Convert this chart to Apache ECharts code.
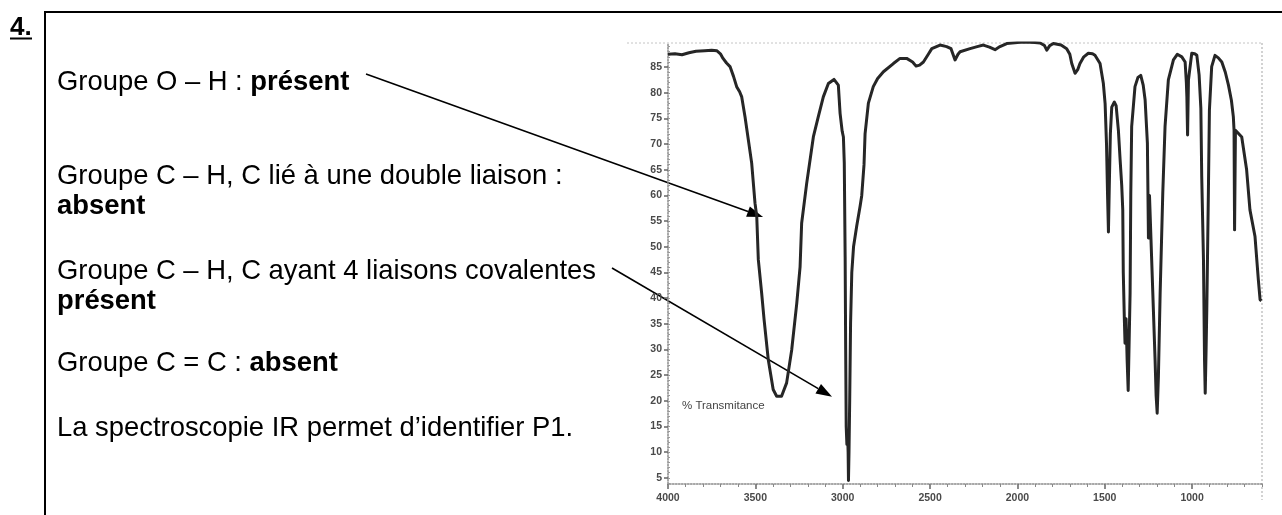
<!DOCTYPE html>
<html>
<head>
<meta charset="utf-8">
<script src="https://cdn.jsdelivr.net/npm/echarts@6/dist/echarts.min.js"></script>
<style>
html,body{margin:0;padding:0;background:#fff;}
#c{width:1282px;height:515px;}
</style>
</head>
<body>
<div id="c"></div>
<script>
// Wavenumbers (cm-1) and % transmittance
const wavenumbers = [4000,3960,3920,3880,3840,3790,3750,3721,3700,3685,3665,3645,3625,3607,3590,3578,3559,3540,3521,3502,3492,3483,3464,3450,3426,3398,3378,3350,3321,3292,3263,3244,3235,3206,3168,3140,3111,3082,3050,3025,3015,3003,2996,2991,2986,2983,2980,2976,2972,2969,2967,2964,2960,2955,2948,2938,2920,2900,2891,2878,2872,2853,2825,2800,2767,2710,2672,2634,2600,2580,2560,2538,2510,2490,2443,2405,2380,2357,2340,2328,2271,2230,2195,2160,2128,2100,2061,2000,1966,1900,1870,1845,1832,1815,1794,1750,1718,1700,1689,1670,1655,1642,1620,1594,1570,1556,1527,1508,1498,1490,1484,1479,1474,1468,1460,1445,1435,1422,1412,1403,1397,1394,1388,1384,1378,1372,1366,1362,1355,1351,1346,1327,1310,1294,1280,1269,1256,1250,1244,1232,1222,1212,1206,1200,1193,1183,1168,1155,1136,1107,1085,1059,1040,1033,1030,1026,1021,1002,985,973,960,950,945,935,929,925,920,916,907,901,888,869,850,830,810,792,775,764,760,757,752,745,716,688,669,640,621,611,603];
const transmittance = [87.5,87.6,87.4,87.8,88.1,88.2,88.3,88.2,87.6,86.7,85.8,85.1,83.2,81.2,80.2,79.2,75.3,70.8,66.3,58.5,55.9,47.5,41.0,35.8,28.0,22.2,20.9,20.9,23.5,29.9,39.0,46.1,54.6,62.4,71.4,75.3,79.2,81.8,82.6,81.5,76.0,72.5,71.4,66.3,48.0,30.0,15.0,11.5,13.5,10.0,4.5,10.0,20.0,35.0,45.0,50.0,54.0,58.0,60.0,66.0,72.0,78.0,81.2,82.8,84.1,85.7,86.7,86.7,86.0,85.2,85.4,86.0,87.5,88.6,89.3,89.0,88.6,86.4,87.5,88.0,88.6,89.0,89.3,88.9,88.4,89.0,89.6,89.8,89.9,89.8,89.7,89.2,88.3,89.2,89.6,89.3,88.6,87.5,85.7,83.8,84.5,85.7,87.0,87.7,87.6,87.3,85.7,81.8,77.9,70.0,60.0,52.9,62.0,72.0,77.2,78.2,77.5,72.7,66.9,62.0,57.2,45.0,36.0,31.2,36.0,28.0,22.0,22.0,41.0,60.4,73.4,81.2,83.0,83.4,81.5,78.6,70.2,51.7,60.0,48.0,38.0,28.0,21.0,17.6,24.7,41.0,60.4,73.4,82.5,86.4,87.5,87.0,86.0,82.0,79.2,71.8,82.5,87.7,87.6,87.3,83.5,77.0,63.7,47.5,28.0,21.5,30.0,37.7,60.4,76.6,85.1,87.3,86.8,86.0,84.0,81.5,78.5,75.3,72.7,53.3,72.7,72.5,71.4,65.0,57.2,52.0,43.6,39.7,39.5];
const xTickLabels = [4000,3500,3000,2500,2000,1500,1000];
const yTickLabels = [5,10,15,20,25,30,35,40,45,50,55,60,65,70,75,80,85];
const xMinorTicks = [];
for (let v = 600; v <= 4000; v += 100) xMinorTicks.push(v);
const yMinorTicks = [];
for (let v = 4; v <= 89; v += 1) yMinorTicks.push(v);
const yAxisName = '% Transmitance';

const spectrum = wavenumbers.map((w, i) => [w, transmittance[i]]);

const chart = echarts.init(document.getElementById('c'), null, {renderer: 'canvas'});
const FONT = '"Liberation Sans", Arial, sans-serif';
const TXT = 27.4;

const axisBase = {
  type: 'value', min: 600, max: 4000, inverse: true, position: 'bottom',
  splitLine: {show: false}
};
const option = {
  animation: false,
  grid: {left: 668, top: 43, right: 20, bottom: 31},
  xAxis: [
    Object.assign({}, axisBase, {
      axisLine: {show: true, lineStyle: {color: '#8a8a8a', type: 'dotted', width: 1.5}},
      axisTick: {show: true, customValues: xTickLabels, length: 5, lineStyle: {color: '#666', width: 1.5}},
      axisLabel: {customValues: xTickLabels, formatter: v => String(v), fontSize: 10.5, fontWeight: 'bold', color: '#4a4a4a', margin: 9, fontFamily: FONT}
    }),
    Object.assign({}, axisBase, {
      axisLine: {show: false},
      axisTick: {show: true, customValues: xMinorTicks, length: 3, lineStyle: {color: '#888'}},
      axisLabel: {show: false}
    })
  ],
  yAxis: [
    {
      type: 'value', min: 3.8, max: 89.7, position: 'left',
      splitLine: {show: false},
      axisLine: {show: true, lineStyle: {color: '#8a8a8a', type: 'dotted', width: 1.5}},
      axisTick: {show: true, customValues: yTickLabels, length: 4, lineStyle: {color: '#666', width: 1.5}},
      axisLabel: {customValues: yTickLabels, formatter: v => String(v), fontSize: 10.5, fontWeight: 'bold', color: '#4a4a4a', margin: 6, fontFamily: FONT}
    },
    {
      type: 'value', min: 3.8, max: 89.7, position: 'left',
      splitLine: {show: false},
      axisLine: {show: false},
      axisTick: {show: true, customValues: yMinorTicks, length: 2, inside: true, lineStyle: {color: '#999'}},
      axisLabel: {show: false}
    }
  ],
  series: [{
    type: 'line', xAxisIndex: 0, yAxisIndex: 0,
    data: spectrum, showSymbol: false, symbol: 'none',
    lineStyle: {color: '#262626', width: 3, join: 'round'}
  }]
};
chart.setOption(option);

function textEl(x, y, rich) {
  return {
    type: 'text', silent: true,
    style: {
      x: x, y: y, verticalAlign: 'middle', align: 'left',
      text: rich,
      rich: {
        n: {fontSize: TXT, fontFamily: FONT, fill: '#000'},
        b: {fontSize: TXT, fontFamily: FONT, fontWeight: 'bold', fill: '#000'}
      }
    }
  };
}
function arrow(start, tip) {
  const dx = tip[0] - start[0], dy = tip[1] - start[1];
  const len = Math.sqrt(dx * dx + dy * dy);
  const ux = dx / len, uy = dy / len;
  const L = 16, W = 5.5;
  const bx = tip[0] - ux * L, by = tip[1] - uy * L;
  return [
    {type: 'line', silent: true, shape: {x1: start[0], y1: start[1], x2: bx, y2: by}, style: {stroke: '#000', lineWidth: 1.6}},
    {type: 'polygon', silent: true, shape: {points: [[tip[0], tip[1]], [bx - uy * W, by + ux * W], [bx + uy * W, by - ux * W]]}, style: {fill: '#000'}}
  ];
}

const tip1 = chart.convertToPixel({xAxisIndex: 0, yAxisIndex: 0}, [3456, 55.8]);
const tip2 = chart.convertToPixel({xAxisIndex: 0, yAxisIndex: 0}, [3061, 20.8]);
const pName = chart.convertToPixel({xAxisIndex: 0, yAxisIndex: 0}, [3920, 20]);

const graphics = [
  // frame of the exercise
  {type: 'line', silent: true, shape: {x1: 44, y1: 12, x2: 1282, y2: 12}, style: {stroke: '#000', lineWidth: 2}},
  {type: 'line', silent: true, shape: {x1: 45, y1: 11, x2: 45, y2: 515}, style: {stroke: '#000', lineWidth: 2}},
  // "4."
  {type: 'text', silent: true, style: {x: 10, y: 28, verticalAlign: 'middle', text: '4.', fontSize: 26, fontWeight: 'bold', fontFamily: FONT, fill: '#000'}},
  {type: 'line', silent: true, shape: {x1: 10, y1: 38.5, x2: 32, y2: 38.5}, style: {stroke: '#000', lineWidth: 2}},
  // spectrum frame
  {type: 'line', silent: true, shape: {x1: 627, y1: 43, x2: 1262, y2: 43}, style: {stroke: '#c4c4c4', lineWidth: 1, lineDash: [2, 2]}},
  {type: 'line', silent: true, shape: {x1: 1262, y1: 43, x2: 1262, y2: 500}, style: {stroke: '#c4c4c4', lineWidth: 1.5, lineDash: [2, 2]}},
  {type: 'text', silent: true, style: {x: pName[0], y: pName[1] + 5, verticalAlign: 'middle', text: yAxisName, fontSize: 11.5, fontFamily: FONT, fill: '#444'}},
  // texts
  textEl(57, 82, '{n|Groupe O – H : }{b|présent}'),
  textEl(57, 176, '{n|Groupe C – H, C lié à une double liaison :}'),
  textEl(57, 206, '{b|absent}'),
  textEl(57, 271, '{n|Groupe C – H, C ayant 4 liaisons covalentes}'),
  textEl(57, 301, '{b|présent}'),
  textEl(57, 363, '{n|Groupe C = C : }{b|absent}'),
  textEl(57, 428, '{n|La spectroscopie IR permet d’identifier P1.}')
].concat(arrow([366, 74], tip1), arrow([612, 268], tip2));

chart.setOption({graphic: graphics});
</script>
</body>
</html>
